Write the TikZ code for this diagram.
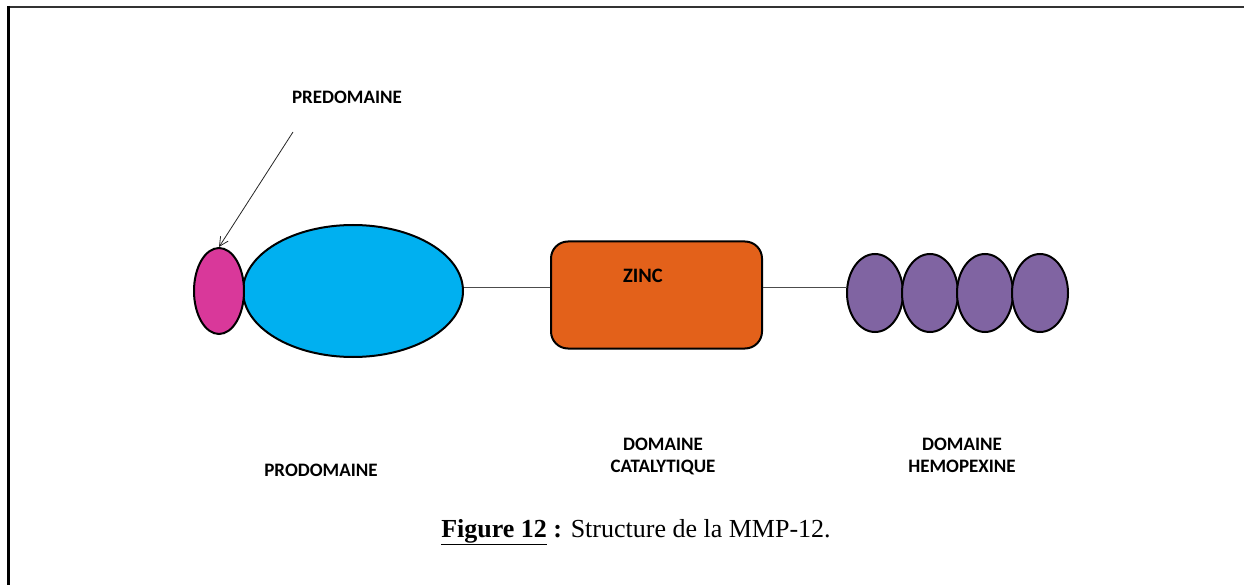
\documentclass[tikz,border=0pt]{standalone}
\usepackage{fontspec}
\usepackage{tikz}
\usetikzlibrary{shapes.geometric,arrows.meta}
\newfontfamily\lblfont{Carlito}
\newfontfamily\capfont{Liberation Serif}
\definecolor{pinkc}{HTML}{D9389A}
\definecolor{bluec}{HTML}{00B0F0}
\definecolor{orangec}{HTML}{E3611A}
\definecolor{purplec}{HTML}{8064A2}
\tikzset{
  domlabel/.style={font=\lblfont\bfseries\fontsize{19}{22}\selectfont, anchor=base, align=center, inner sep=0pt},
  blob/.style={ellipse, draw=black, line width=2pt, inner sep=0pt},
  link/.style={draw=black!70, line width=0.9pt},
}
\begin{document}
\begin{tikzpicture}[x=1pt,y=-1pt]
\useasboundingbox (0,0) rectangle (1244,585);
% frame
\draw[line width=2pt, black!80] (8,7) -- (1244,7);
\draw[line width=3pt] (8,6) -- (8,585);
% shapes
\node[blob, fill=bluec, minimum width=220pt, minimum height=132pt] (pro) at (353,291) {};
\node[blob, fill=pinkc, minimum width=50pt, minimum height=86pt] (pre) at (219,291) {};
\node[draw=black, line width=2pt, fill=orangec, rounded corners=17pt, minimum width=211pt, minimum height=107pt, inner sep=0pt] (cat) at (656.5,295) {};
\node[blob, fill=purplec, minimum width=56pt, minimum height=78pt] (h1) at (875,293) {};
\node[blob, fill=purplec, minimum width=56pt, minimum height=78pt] (h2) at (930,293) {};
\node[blob, fill=purplec, minimum width=56pt, minimum height=78pt] (h3) at (985,293) {};
\node[blob, fill=purplec, minimum width=56pt, minimum height=78pt] (h4) at (1040,293) {};
% links
\coordinate (l1) at (pro.east |- 0,287);
\coordinate (l2) at (cat.west |- 0,287);
\coordinate (l3) at (cat.east |- 0,287);
\coordinate (l4) at (h1.west |- 0,287);
\draw[link] (l1) -- (l2);
\draw[link] (l3) -- (l4);
% labels
\node[domlabel, font=\lblfont\bfseries\fontsize{20.5}{22}\selectfont] (zinc) at (643,283) {ZINC};
\node[domlabel] (predlbl) at (347,104) {PREDOMAINE};
\node[domlabel] (prolbl) at (321,476) {PRODOMAINE};
\node[domlabel] (cat1) at (663,450) {DOMAINE};
\node[domlabel] (cat2) at (663,472) {CATALYTIQUE};
\node[domlabel] (hem1) at (962,450) {DOMAINE};
\node[domlabel] (hem2) at (962,472) {HEMOPEXINE};
% arrow
\coordinate (astart) at (293,132);
\draw[black!85, line width=0.8pt, -{Straight Barb[length=9pt,width=9pt]}] (astart) -- (pre.north);
% caption
\node[anchor=base, inner sep=0pt, font=\capfont\fontsize{26}{29}\selectfont] (caption) at (636,537) {\textbf{\underline{Figure 12} :} Structure de la MMP-12.};
\end{tikzpicture}
\end{document}
